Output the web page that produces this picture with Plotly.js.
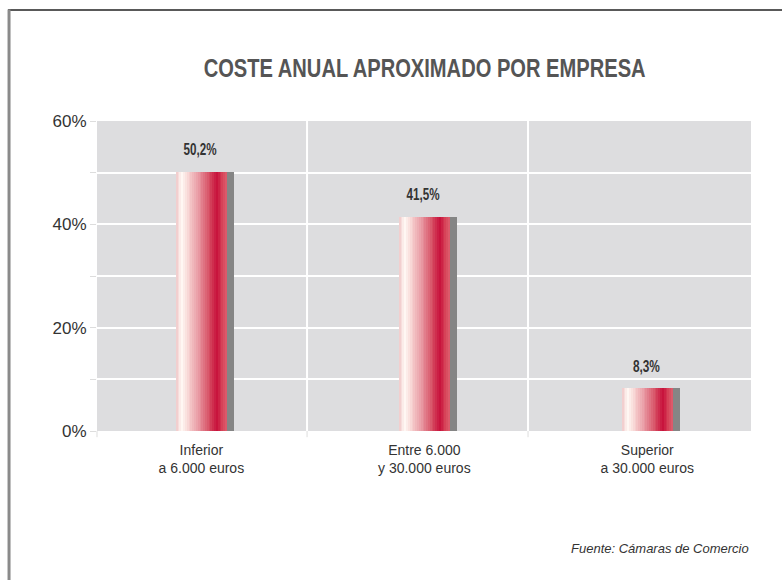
<!DOCTYPE html>
<html>
<head>
<meta charset="utf-8">
<script src="https://cdn.plot.ly/plotly-3.0.1.min.js"></script>
<style>
html,body{margin:0;padding:0;background:#fff;}
#chart{width:782px;height:580px;}
</style>
</head>
<body>
<div id="chart"></div>
<script>
// ---- data ----
const categories = ["Inferior<br>a 6.000 euros", "Entre 6.000<br>y 30.000 euros", "Superior<br>a 30.000 euros"];
const values = [50.2, 41.5, 8.3];
const valueLabels = ["50,2%", "41,5%", "8,3%"];
const yTickVals = [0, 10, 20, 30, 40, 50, 60];
const yTickText = ["0%", "", "20%", "", "40%", "", "60%"];
const titleText = "COSTE ANUAL APROXIMADO POR EMPRESA";
const sourceText = "Fuente: Cámaras de Comercio";

// ---- style ----
const xPos = categories.map((c, i) => i);
const barW = 0.229;
const nStrips = 28;
const stops = [
  [0.00, [240, 200, 200]],
  [0.12, [255, 248, 244]],
  [0.20, [250, 225, 222]],
  [0.45, [232, 150, 160]],
  [0.65, [215, 80, 100]],
  [0.80, [200, 18, 60]],
  [0.92, [215, 70, 90]],
  [1.00, [222, 95, 110]]
];
function colorAt(t) {
  for (let k = 0; k < stops.length - 1; k++) {
    const a = stops[k], b = stops[k + 1];
    if (t >= a[0] && t <= b[0]) {
      const f = (t - a[0]) / (b[0] - a[0]);
      const c = a[1].map((v, j) => Math.round(v + (b[1][j] - v) * f));
      return `rgb(${c[0]},${c[1]},${c[2]})`;
    }
  }
  return "rgb(222,95,110)";
}

const traces = [];
// shadow
traces.push({
  type: "bar", x: xPos, y: values,
  width: barW, offset: -barW / 2 + 0.032,
  marker: { color: "#858585", line: { width: 0 } },
  hoverinfo: "skip", showlegend: false
});
const sw = barW / nStrips;
for (let i = 0; i < nStrips; i++) {
  traces.push({
    type: "bar", x: xPos, y: values,
    width: sw * 1.15, offset: -barW / 2 + i * sw,
    marker: { color: colorAt((i + 0.5) / nStrips), line: { width: 0 } },
    hoverinfo: "skip", showlegend: false
  });
}

const xRange = [-0.468, 2.465];
const vLines = [0.474, 1.465];
const shapes = [];
vLines.forEach(v => {
  shapes.push({ type: "line", xref: "x", yref: "y", x0: v, x1: v, y0: 0, y1: 60, line: { color: "#ffffff", width: 2 }, layer: "below" });
  shapes.push({ type: "line", xref: "x", yref: "paper", x0: v, x1: v, y0: 0, y1: -0.02, line: { color: "#dddddd", width: 1 } });
});
shapes.push({ type: "line", xref: "paper", yref: "paper", x0: 0, x1: 0, y0: 0, y1: -0.02, line: { color: "#dddddd", width: 1 } });
// frame
shapes.push({ type: "line", xref: "paper", yref: "paper", x0: -0.136, x1: 1.05, y0: 1.358, y1: 1.358, line: { color: "#222222", width: 1.5 } });
shapes.push({ type: "line", xref: "paper", yref: "paper", x0: -0.1345, x1: -0.1345, y0: 1.36, y1: -0.5, line: { color: "#8a8a8a", width: 3 } });

const condensed = "Liberation Sans, Arial, sans-serif";
const annotations = values.map((v, i) => ({
  x: xPos[i], y: v, xref: "x", yref: "y", text: valueLabels[i], showarrow: false,
  yshift: 22, xshift: -1,
  font: { family: condensed, size: 17, color: "#333333", weight: "bold" }
}));
annotations.push({
  xref: "paper", yref: "paper", x: 1.0, y: -0.38, xanchor: "right", yanchor: "middle",
  text: sourceText, showarrow: false,
  font: { family: "Liberation Sans, Arial, sans-serif", size: 13, color: "#333333", style: "italic" }
});

const layout = {
  width: 782, height: 580,
  margin: { l: 97, r: 31, t: 121, b: 149 },
  paper_bgcolor: "#ffffff", plot_bgcolor: "#dddddf",
  barmode: "overlay", bargap: 0,
  title: {
    text: titleText,
    x: 0.543, xanchor: "center", y: 0.882, yanchor: "middle",
    font: { family: condensed, size: 25, color: "#555555", weight: "bold" }
  },
  xaxis: {
    range: xRange, tickvals: xPos, ticktext: categories,
    showgrid: false, zeroline: false, showline: false, ticks: "",
    ticklabelstandoff: 9,
    tickfont: { family: "Liberation Sans, Arial, sans-serif", size: 14, color: "#333333" }
  },
  yaxis: {
    range: [0, 60], tickvals: yTickVals, ticktext: yTickText,
    showgrid: true, gridcolor: "#ffffff", gridwidth: 2, zeroline: false, showline: false,
    ticks: "outside", ticklen: 6, tickcolor: "#dddddd", tickwidth: 1,
    tickfont: { family: "Liberation Sans, Arial, sans-serif", size: 17, color: "#333333" }
  },
  shapes: shapes,
  annotations: annotations
};

// target widths of condensed texts (narrowing the glyphs)
const titleWidth = 442;
const labelWidths = [33, 33, 27];

Plotly.newPlot("chart", traces, layout, { displayModeBar: false, staticPlot: true }).then(gd => {
  const t = gd.querySelector(".gtitle");
  if (t) { t.setAttribute("textLength", titleWidth); t.setAttribute("lengthAdjust", "spacingAndGlyphs"); }
  const ann = gd.querySelectorAll(".annotation-text");
  valueLabels.forEach((lab, i) => {
    const el = ann[i];
    if (el) { el.setAttribute("textLength", labelWidths[i]); el.setAttribute("lengthAdjust", "spacingAndGlyphs"); }
  });
});
</script>
</body>
</html>
